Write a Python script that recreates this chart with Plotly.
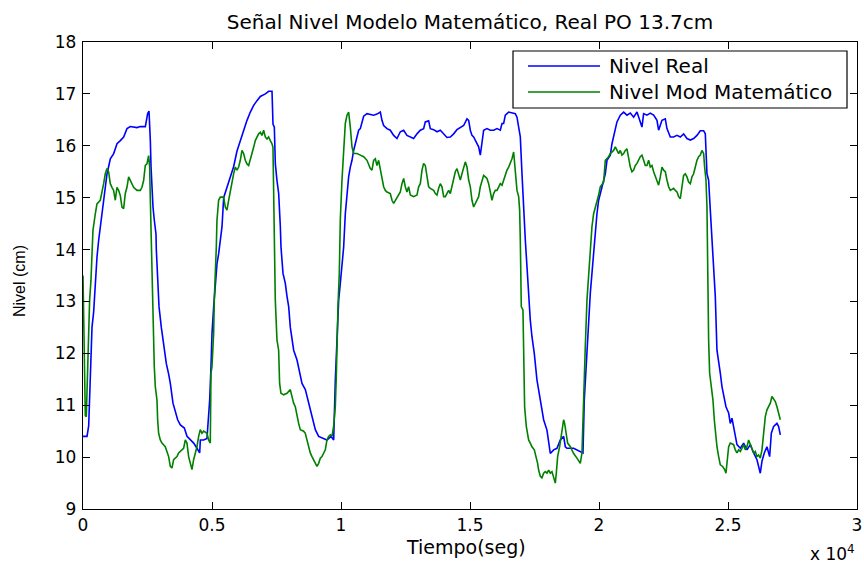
import plotly.graph_objects as go

# ---- Data ----
real_t = [0, 155, 220, 258, 310, 349, 413, 478, 543, 607, 672, 736, 801, 866, 930, 995, 1059, 1189, 1318, 1447,
          1576, 1705, 1835, 2093, 2222, 2416, 2455, 2506, 2558, 2584, 2610, 2636, 2674, 2713, 2765, 2829, 2842,
          2894, 2946, 3036, 3101, 3152, 3230, 3320, 3385, 3488, 3579, 3669, 3773, 3928, 4031, 4160, 4289, 4419,
          4522, 4548, 4677, 4806, 4910, 4961, 5000, 5065, 5129, 5194, 5258, 5323, 5388, 5452, 5581, 5711, 5840,
          5969, 6098, 6227, 6357, 6486, 6615, 6744, 6873, 7067, 7196, 7326, 7364, 7416, 7455, 7519, 7584, 7649,
          7674, 7752, 7842, 7907, 7972, 8036, 8101, 8165, 8295, 8398, 8488, 8618, 8747, 8876, 9005, 9134, 9328,
          9457, 9612, 9716, 9780, 9845, 9910, 9974,
          10103, 10167, 10232, 10296, 10361, 10426, 10490, 10555, 10619, 10684, 10749, 10813, 10878, 11007, 11136,
          11265, 11395, 11524, 11588, 11653, 11782, 11911, 12041, 12170, 12299, 12428, 12557, 12687, 12816, 12945,
          13074, 13203, 13268, 13397, 13462, 13591, 13720, 13849, 13979, 14108, 14237, 14366, 14495, 14625, 14754,
          14883, 14948, 15012, 15077, 15141, 15206, 15271, 15335, 15400, 15464, 15529, 15658, 15787, 15917, 16046,
          16175, 16240, 16304, 16369, 16498, 16627, 16756, 16821, 16886, 16950, 17015, 17079, 17144, 17209,
          17272, 17337, 17402, 17492, 17595, 17725, 17854, 17983, 18112, 18241, 18371, 18500, 18629, 18694, 18758,
          19017, 19275, 19379, 19430, 19482, 19534, 19598, 19663, 19727, 19792, 19857, 19921, 19986, 20050, 20115,
          20244, 20309, 20438, 20503, 20567, 20632, 20696, 20826, 20955, 21084, 21213, 21342, 21472, 21665, 21730,
          21859, 21988, 22118, 22247, 22311, 22441, 22570, 22634, 22764, 22893, 23022, 23151, 23280, 23410, 23539,
          23668, 23797, 23926, 24056, 24120, 24185, 24249, 24314, 24379, 24443, 24508, 24572, 24637, 24702, 24766,
          24857, 24921, 25025, 25089, 25154, 25218, 25283, 25348, 25477, 25606, 25735, 25864, 25994, 26123, 26252,
          26317, 26407, 26510, 26614, 26679, 26769, 26898, 26963, 27027]
real_v = [10.4, 10.4, 10.6, 11.3, 11.9, 12.5, 12.8, 13.45, 13.86, 14.18, 14.44, 14.69, 15.0, 15.2, 15.46, 15.6, 15.75,
          15.85, 16.04, 16.1, 16.17, 16.33, 16.37, 16.35, 16.37, 16.37, 16.49, 16.62, 16.67, 16.42, 16.1, 15.6, 15.14,
          14.82, 14.56, 14.3, 14.0, 13.54, 12.9, 12.5, 12.26, 12.0, 11.8, 11.6, 11.42, 11.04, 10.9, 10.72, 10.62, 10.56,
          10.4, 10.33, 10.27, 10.17, 10.08, 10.33, 10.33, 10.36, 11.1, 11.74, 12.38, 12.9, 13.35, 13.73, 13.92, 14.18,
          14.44, 15.0, 15.2, 15.4, 15.6, 15.9, 16.1, 16.33, 16.49, 16.65, 16.78, 16.87, 16.95, 17.0, 17.05, 17.05,
          16.42, 16.36, 15.65, 15.33, 15.08, 14.44, 14.05, 13.54, 13.35, 13.1, 12.9, 12.5, 12.3, 12.06, 11.87, 11.6,
          11.42, 11.3, 11.04, 10.78, 10.53, 10.4, 10.36, 10.33, 10.4, 10.33, 11.49, 12.38, 13.03, 13.35,
          14.05, 14.69, 15.14, 15.4, 15.59, 15.72, 15.91, 16.04, 16.17, 16.3, 16.33, 16.43, 16.57, 16.62, 16.61,
          16.59, 16.61, 16.65, 16.49, 16.39, 16.33, 16.3, 16.2, 16.14, 16.27, 16.3, 16.2, 16.17, 16.14, 16.23,
          16.3, 16.33, 16.46, 16.48, 16.33, 16.31, 16.27, 16.3, 16.23, 16.16, 16.17, 16.23, 16.31, 16.35, 16.39,
          16.52, 16.49, 16.3, 16.2, 16.17, 16.11, 16.04, 15.98, 15.82, 16.11, 16.3, 16.33, 16.3, 16.3, 16.33,
          16.3, 16.43, 16.43, 16.59, 16.65, 16.63, 16.62, 16.55, 16.36, 16.17, 15.46, 14.76, 14.18, 13.67,
          13.09, 12.64, 12.32, 12.0, 11.49, 11.1, 10.72, 10.52, 10.07, 10.14, 10.17, 10.33, 10.4, 10.2, 10.17,
          10.17, 10.11, 10.08, 11.1, 11.6, 12.13, 12.64, 13.16, 13.54, 13.99, 14.44, 14.69, 14.95, 15.08, 15.21,
          15.46, 15.72, 15.82, 16.04, 16.17, 16.36, 16.46, 16.59, 16.65, 16.59, 16.63, 16.55, 16.65, 16.36, 16.62,
          16.59, 16.63, 16.59, 16.49, 16.3, 16.49, 16.52, 16.33, 16.17, 16.17, 16.2, 16.17, 16.23, 16.14, 16.11,
          16.14, 16.2, 16.29, 16.29, 16.23, 15.46, 15.34, 14.76, 14.18, 13.54, 13.09, 12.06, 11.87, 11.62, 11.36,
          11.1, 10.97, 10.85, 10.65, 10.75, 10.59, 10.4, 10.24, 10.17, 10.27, 10.14, 10.24, 10.08, 9.95, 9.69,
          9.92, 10.08, 10.2, 10.01, 10.46, 10.59, 10.65, 10.59, 10.43]

model_t = [0, 30, 50, 89, 128, 154, 218, 257, 309, 347, 386, 477, 541, 670, 735, 800, 864, 929, 993, 1058, 1123,
           1187, 1252, 1316, 1381, 1446, 1510, 1575, 1639, 1704, 1769, 1833, 1898, 1962, 2092, 2221, 2285, 2350,
           2415, 2479, 2544, 2583, 2608, 2634, 2647, 2673, 2712, 2763, 2802, 2867, 2893, 2931, 2996, 3061, 3190,
           3254, 3319, 3384, 3448, 3513, 3577, 3642, 3707, 3771, 3836, 3900, 3965, 4030, 4094, 4159, 4223, 4288,
           4353, 4417, 4482, 4546, 4611, 4676, 4805, 4869, 4934, 4960, 4999, 5063, 5089, 5128, 5167, 5192, 5257,
           5322, 5451, 5515, 5580, 5645, 5709, 5774, 5838, 5903, 5968, 6032, 6097, 6161, 6226, 6291, 6355, 6420,
           6484, 6549, 6614, 6678, 6743, 6807, 6872, 6937, 7001, 7066, 7130, 7195, 7260, 7324, 7363, 7389, 7415,
           7428, 7453, 7518, 7583, 7621, 7673, 7776, 7906, 8035, 8099, 8164, 8229, 8293, 8358, 8422, 8552, 8616,
           8681, 8745, 8810, 8875, 8939, 9004, 9068, 9133, 9198, 9262, 9327, 9391, 9456, 9521, 9585, 9650, 9714,
           9779, 9818, 9844, 9882, 9934,
           9973, 10038, 10103, 10167, 10232, 10296, 10361, 10426, 10490, 10619, 10749, 10878, 11007, 11072, 11136,
           11201, 11265, 11330, 11395, 11459, 11524, 11588, 11653, 11718, 11782, 11911, 11976, 12041, 12105, 12170,
           12234, 12299, 12364, 12428, 12493, 12557, 12622, 12687, 12816, 12945, 13010, 13074, 13139, 13203, 13268,
           13333, 13397, 13462, 13591, 13656, 13720, 13785, 13849, 13914, 13979, 14043, 14108, 14172, 14237, 14302,
           14366, 14431, 14495, 14560, 14625, 14689, 14754, 14818, 14883, 14948, 15012, 15077, 15141, 15206, 15271,
           15335, 15400, 15464, 15529, 15594, 15658, 15723, 15787, 15852, 15917, 15981, 16046, 16110, 16175, 16240,
           16304, 16369, 16433, 16498, 16563, 16627, 16692, 16718, 16756, 16821, 16886, 16924, 16950, 16976,
           16988, 17053, 17079, 17117, 17182, 17272, 17337, 17402, 17492, 17570, 17621, 17660, 17725, 17789, 17854,
           17919, 17983, 18048, 18112, 18177, 18241, 18306, 18345, 18397, 18474, 18526, 18577, 18629, 18668, 18720,
           18784, 18888, 19017, 19146, 19275, 19340, 19379, 19430, 19469, 19534, 19598, 19663, 19727, 19792, 19857,
           19921, 19986, 20050, 20115, 20180, 20244, 20309, 20373, 20438, 20567, 20632, 20696, 20761, 20826, 20890,
           20955, 21019, 21084, 21149, 21213, 21278, 21342, 21407, 21472, 21601, 21665, 21730, 21795, 21859, 21924,
           21988, 22053, 22118, 22182, 22247, 22311, 22376, 22441, 22505, 22570, 22634, 22699, 22764, 22893, 22957,
           23022, 23087, 23151, 23216, 23280, 23345, 23410, 23474, 23539, 23604, 23668, 23733, 23797, 23862, 23926,
           23991, 24056, 24094, 24146, 24185, 24211, 24249, 24288, 24340, 24417, 24469, 24508, 24572, 24637, 24702,
           24792, 24870, 24921, 24960, 25025, 25089, 25218, 25283, 25348, 25412, 25477, 25541, 25606, 25671, 25735,
           25800, 25864, 25929, 25994, 26058, 26123, 26187, 26252, 26317, 26356, 26407, 26446, 26510, 26575, 26640,
           26704, 26769, 26834, 26898, 26963, 27027]
model_v = [13.5, 12.3, 11.4, 10.8, 10.78, 11.36, 12.32, 13.03, 13.41, 13.92, 14.37, 14.69, 14.88, 14.95, 15.08, 15.27,
           15.46, 15.56, 15.5, 15.27, 15.2, 15.14, 14.95, 15.2, 15.14, 15.04, 14.82, 14.79, 15.08, 15.2, 15.4, 15.33,
           15.27, 15.2, 15.14, 15.14, 15.2, 15.33, 15.62, 15.65, 15.81, 15.59, 15.0, 14.44, 13.67, 13.54, 12.51, 11.74,
           11.36, 11.1, 10.72, 10.46, 10.33, 10.27, 10.2, 10.08, 10.01, 9.82, 9.79, 9.95, 9.98, 10.01, 10.08, 10.11,
           10.14, 10.17, 10.33, 10.27, 10.01, 9.85, 9.76, 9.95, 10.08, 10.2, 10.4, 10.53, 10.46, 10.5, 10.46, 10.33,
           10.27, 11.62, 11.74, 12.38, 13.03, 13.41, 14.05, 14.56, 14.95, 15.01, 15.01, 14.82, 14.76, 14.95, 15.14,
           15.27, 15.46, 15.59, 15.53, 15.59, 15.72, 15.91, 15.85, 15.72, 15.65, 15.62, 15.72, 15.85, 15.97, 16.1,
           16.17, 16.23, 16.26, 16.2, 16.3, 16.17, 16.13, 16.17, 16.1, 16.04, 15.97, 15.14, 14.44, 13.8, 13.03, 12.26,
           12.06, 11.42, 11.23, 11.2, 11.23, 11.3, 11.17, 11.04, 10.97, 10.78, 10.65, 10.53, 10.5, 10.46, 10.33, 10.2,
           10.08, 10.01, 9.95, 9.88, 9.82, 9.88, 9.98, 10.01, 10.08, 10.14, 10.33, 10.4, 10.43, 10.4, 10.59, 10.97,
           11.55, 12.38, 12.9, 13.54,
           14.57, 15.34, 16.04, 16.43, 16.59, 16.65, 16.36, 15.98, 15.85, 15.85, 15.82, 15.79, 15.72, 15.62, 15.56,
           15.53, 15.72, 15.75, 15.62, 15.72, 15.53, 15.34, 15.21, 15.14, 15.11, 15.08, 14.95, 14.89, 14.95, 15.02,
           15.08, 15.11, 15.27, 15.37, 15.21, 15.11, 15.21, 15.05, 15.02, 15.05, 15.21, 15.27, 15.53, 15.66, 15.62,
           15.4, 15.21, 15.18, 15.14, 15.08, 15.05, 15.18, 15.27, 15.21, 15.02, 15.02, 15.08, 15.14, 15.08, 15.21,
           15.34, 15.5, 15.56, 15.46, 15.34, 15.46, 15.59, 15.69, 15.59, 15.34, 15.21, 14.95, 14.82, 14.89, 14.95,
           15.02, 15.21, 15.34, 15.43, 15.4, 15.37, 15.27, 15.08, 14.95, 15.08, 15.14, 15.14, 15.21, 15.27, 15.24,
           15.34, 15.46, 15.53, 15.59, 15.66, 15.75, 15.88, 15.72, 15.46, 15.14, 15.02, 14.76, 14.18, 13.41,
           12.9, 12.83, 11.68, 10.97, 10.59, 10.33, 10.27, 10.2, 10.14, 10.01, 9.88, 9.75, 9.63, 9.6, 9.69,
           9.72, 9.69, 9.75, 9.69, 9.72, 9.6, 9.5, 9.69, 10.01, 10.2, 10.4, 10.59, 10.72, 10.65, 10.46,
           10.27, 10.2, 10.07, 9.98, 9.88, 10.08, 10.78, 11.62, 12.13, 13.03, 13.54, 13.99, 14.44, 14.69, 14.82,
           14.89, 15.05, 15.21, 15.27, 15.3, 15.72, 15.75, 15.79, 15.85, 15.91, 15.98, 15.91, 15.85, 15.91, 15.82,
           15.85, 15.91, 15.94, 15.72, 15.59, 15.5, 15.53, 15.62, 15.66, 15.79, 15.82, 15.72, 15.62, 15.62, 15.72,
           15.59, 15.62, 15.5, 15.4, 15.34, 15.24, 15.4, 15.59, 15.53, 15.5, 15.34, 15.21, 15.14, 15.18, 15.14,
           15.11, 15.02, 14.98, 15.21, 15.43, 15.46, 15.4, 15.3, 15.27, 15.4, 15.46, 15.59, 15.72, 15.79, 15.82,
           15.91, 15.85, 15.59, 15.34, 14.82, 13.54, 12.26, 11.62, 11.42, 11.1, 10.72, 10.46, 10.2, 10.01, 9.85,
           9.82, 9.76, 9.69, 9.95, 10.2, 10.27, 10.24, 10.14, 10.08, 10.14, 10.11, 10.17, 10.24, 10.14, 10.2,
           10.33, 10.24, 10.17, 10.08, 10.11, 10.01, 10.04, 9.98, 10.14, 10.33, 10.65, 10.78, 10.91, 10.97, 11.04,
           11.17, 11.13, 11.07, 10.97, 10.85, 10.72]

x_tick_vals = [0, 5000, 10000, 15000, 20000, 25000, 30000]
x_tick_text = ["0", "0.5", "1", "1.5", "2", "2.5", "3"]
y_tick_vals = [9, 10, 11, 12, 13, 14, 15, 16, 17, 18]

series_names = ["Nivel Real", "Nivel Mod Matemático"]
series_colors = ["#0000FF", "#008000"]

FONT = "DejaVu Sans"

fig = go.Figure()
fig.add_trace(go.Scatter(x=real_t, y=real_v, mode="lines", name=series_names[0],
                         line=dict(color=series_colors[0], width=1.6), showlegend=False))
fig.add_trace(go.Scatter(x=model_t, y=model_v, mode="lines", name=series_names[1],
                         line=dict(color=series_colors[1], width=1.6), showlegend=False))

# Layout geometry in page pixels (body margin is removed by the post script).
W, H = 864, 564
L, T = 83, 42
R = W - 857
B = H - 509
pw, ph = W - L - R, H - T - B


def px(x):
    return (x - L) / pw


def py(y):
    return (H - B - y) / ph


# Manual MATLAB-style legend box
shapes = [
    dict(type="rect", xref="paper", yref="paper", x0=px(513), x1=px(847), y0=py(108), y1=py(51),
         line=dict(color="black", width=1.2), fillcolor="white", layer="above"),
]
annotations = []
rows = [66, 92]
for name, col, ry in zip(series_names, series_colors, rows):
    shapes.append(dict(type="line", xref="paper", yref="paper", x0=px(528), x1=px(600), y0=py(ry), y1=py(ry),
                       line=dict(color=col, width=1.3), layer="above"))
    annotations.append(dict(text=name, xref="paper", yref="paper", x=px(607), y=py(ry), xanchor="left",
                            yanchor="middle", showarrow=False, font=dict(family=FONT, size=20, color="black")))

# Axis titles and exponent label
annotations.append(dict(text="Tiempo(seg)", xref="paper", yref="paper", x=px(466), y=py(547),
                        xanchor="center", yanchor="middle", showarrow=False,
                        font=dict(family=FONT, size=19, color="black")))
annotations.append(dict(text="Nivel (cm)", xref="paper", yref="paper", x=px(19), y=py(281),
                        xanchor="center", yanchor="middle", textangle=-90, showarrow=False,
                        font=dict(family="Liberation Sans", size=16, color="black")))
annotations.append(dict(text="x 10<sup>4</sup>", xref="paper", yref="paper", x=px(857), y=py(553),
                        xanchor="right", yanchor="middle", showarrow=False,
                        font=dict(family=FONT, size=17, color="black")))

fig.update_layout(
    width=W, height=H,
    margin=dict(l=L, r=R, t=T, b=B, autoexpand=False),
    paper_bgcolor="white", plot_bgcolor="white",
    title=dict(text="Señal Nivel Modelo Matemático, Real PO 13.7cm", x=0.5, xref="paper",
               y=1 - 22 / H, yanchor="middle", font=dict(family=FONT, size=20, color="black")),
    shapes=shapes, annotations=annotations,
    showlegend=False,
)
fig.update_xaxes(range=[0, 30000], tickvals=x_tick_vals, ticktext=x_tick_text, automargin=False,
                 ticklabeloverflow="allow",
                 showgrid=False, zeroline=False, showline=True, linecolor="black", linewidth=1.3,
                 mirror="ticks", ticks="inside", ticklen=7, tickcolor="black", tickwidth=1.3,
                 tickfont=dict(family=FONT, size=17, color="black"))
fig.update_yaxes(range=[9, 18], tickvals=y_tick_vals, automargin=False, ticklabelstandoff=2,
                 ticklabeloverflow="allow",
                 showgrid=False, zeroline=False, showline=True, linecolor="black", linewidth=1.3,
                 mirror="ticks", ticks="inside", ticklen=7, tickcolor="black", tickwidth=1.3,
                 tickfont=dict(family=FONT, size=17, color="black"))

fig.write_html("out.html", config={"displayModeBar": False},
               post_script="document.body.style.margin='0';document.body.style.overflow='hidden';")
